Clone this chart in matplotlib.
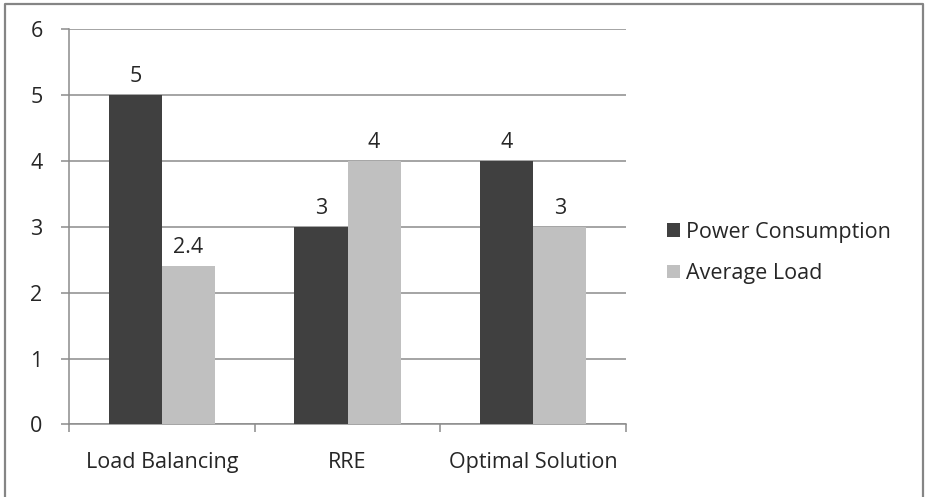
import matplotlib
matplotlib.use("Agg")
import matplotlib.pyplot as plt
import numpy as np
from matplotlib.lines import Line2D

categories = ["Load Balancing", "RRE", "Optimal Solution"]
power_consumption = [5, 3, 4]
average_load = [2.4, 4, 3]
series_names = ["Power Consumption", "Average Load"]
y_ticks = [0, 1, 2, 3, 4, 5, 6]

plt.rcParams["font.family"] = ["Open Sans", "DejaVu Sans"]

fig = plt.figure(figsize=(9.25, 4.97), dpi=100)
ax = fig.add_axes([0.0746, 0.1459, 0.6022, 0.7948])

x = np.arange(len(categories))
width = 0.286
grid_color = "#8c8c8c"
text_color = "#262626"
fs = 15.5

bars1 = ax.bar(x - width / 2, power_consumption, width, color="#404040",
               label=series_names[0], zorder=3)
bars2 = ax.bar(x + width / 2, average_load, width, color="#c0c0c0",
               label=series_names[1], zorder=3)

# value labels above each bar
for bars, vals in [(bars1, power_consumption), (bars2, average_load)]:
    for b, v in zip(bars, vals):
        ax.annotate(f"{v:g}", (b.get_x() + b.get_width() / 2, v),
                    xytext=(0, 6), textcoords="offset points",
                    ha="center", va="bottom", fontsize=fs, color=text_color)

ax.set_xlim(-0.5, len(categories) - 0.5)
ax.set_ylim(0, 6)
ax.set_yticks(y_ticks)
ax.yaxis.grid(True, color=grid_color, linewidth=1.1, zorder=0)
ax.set_axisbelow(True)

# category ticks sit on the boundaries between groups
ax.set_xticks(np.arange(len(categories) + 1) - 0.5)
ax.set_xticklabels([])
ax.set_xticks(x, minor=True)
ax.set_xticklabels(categories, minor=True)
ax.tick_params(axis="x", which="minor", length=0, pad=20,
               labelsize=fs, labelcolor=text_color)
ax.tick_params(axis="x", which="major", length=6, color=grid_color,
               width=1.1)
ax.tick_params(axis="y", length=6, color=grid_color, width=1.1, pad=13,
               labelsize=fs, labelcolor=text_color)

for side in ["top", "right"]:
    ax.spines[side].set_visible(False)
for side in ["left", "bottom"]:
    ax.spines[side].set_color(grid_color)
    ax.spines[side].set_linewidth(1.1)

leg = fig.legend(loc="center left", bbox_to_anchor=(0.721, 0.491),
                 frameon=False, fontsize=fs, handlelength=0.6,
                 handleheight=0.6, handletextpad=0.3, labelspacing=0.95,
                 borderaxespad=0, borderpad=0)
for t in leg.get_texts():
    t.set_color(text_color)

# outer chart frame (left, top, right)
frame_color = "#858585"
fig.add_artist(Line2D([0.0057, 0.0057, 0.9978, 0.9978],
                      [0.0, 0.9925, 0.9925, 0.0],
                      transform=fig.transFigure, color=frame_color,
                      linewidth=1.6))

fig.savefig("out.png", dpi=100)
